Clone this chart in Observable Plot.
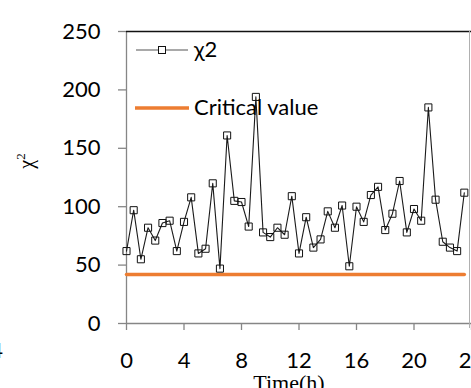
<!DOCTYPE html>
<html>
<head>
<meta charset="utf-8">
<script src="https://cdn.jsdelivr.net/npm/d3@7"></script>
<script src="https://cdn.jsdelivr.net/npm/@observablehq/plot@0.6"></script>
<style>
  html, body { margin: 0; padding: 0; background: #fff; overflow: hidden; }
  #chart { width: 471px; height: 388px; position: relative; }
</style>
</head>
<body>
<div id="chart"></div>
<script>
// Time (hours)
const times = [0, 0.5, 1, 1.5, 2, 2.5, 3, 3.5, 4, 4.5, 5, 5.5, 6, 6.5, 7, 7.5,
  8, 8.5, 9, 9.5, 10, 10.5, 11, 11.5, 12, 12.5, 13, 13.5, 14, 14.5, 15, 15.5,
  16, 16.5, 17, 17.5, 18, 18.5, 19, 19.5, 20, 20.5, 21, 21.5, 22, 22.5, 23, 23.5];
// chi-square statistic
const chi2 = [62, 97, 55, 82, 71, 86, 88, 62, 87, 108, 60, 64, 120, 47, 161, 105,
  104, 83, 194, 78, 74, 82, 76, 109, 60, 91, 65, 72, 96, 82, 101, 49,
  100, 87, 110, 117, 80, 94, 122, 78, 98, 88, 185, 106, 70, 65, 62, 112];
const criticalValue = 42;
const xTicks = [0, 4, 8, 12, 16, 20, 24];
const yTicks = [0, 50, 100, 150, 200, 250];
const seriesNames = ["χ2", "Critical value"];
const xTitle = "Time(h)";
const yTitle = "χ";
const yTitleSup = "2";

const chiData = times.map((t, i) => ({t, v: chi2[i]}));
const critData = times.map(t => ({t, v: criticalValue}));

const font = "Lato, 'Open Sans', sans-serif";
const serif = "'Liberation Serif', 'Times New Roman', serif";
const axisGray = "#868686";
const orange = "#ED7D31";

const plot = Plot.plot({
  width: 471,
  height: 388,
  marginLeft: 126,
  marginRight: 0,
  marginTop: 31,
  marginBottom: 65,
  style: {fontFamily: font, fontSize: "22px", color: "#000", background: "#fff", overflow: "visible"},
  x: {domain: [0, 24], ticks: xTicks},
  y: {domain: [0, 250], ticks: yTicks},
  marks: [
    Plot.ruleY([0], {stroke: axisGray, strokeWidth: 1.3}),
    Plot.ruleX([0], {stroke: axisGray, strokeWidth: 1.3}),
    Plot.axisY({ticks: yTicks, tickSize: 8, tickPadding: 18, stroke: axisGray, strokeWidth: 1.3, label: null, fill: "#000"}),
    Plot.axisX({ticks: xTicks, tickSize: 7, tickPadding: 22, stroke: axisGray, strokeWidth: 1.3, label: null, fill: "#000"}),
    Plot.line(critData, {x: "t", y: "v", stroke: orange, strokeWidth: 3.5}),
    Plot.line(chiData, {x: "t", y: "v", stroke: "#1a1a1a", strokeWidth: 1.1}),
    Plot.dot(chiData, {x: "t", y: "v", symbol: "square", r: 4, stroke: "#111", strokeWidth: 1, fill: "none"})
  ]
});

document.getElementById("chart").appendChild(plot);

// frame lines, titles and legend
const svg = d3.select(plot);
svg.append("line").attr("x1", 126).attr("x2", 471).attr("y1", 31.5).attr("y2", 31.5)
  .attr("stroke", "#111").attr("stroke-width", 1.6);
svg.append("line").attr("x1", 469.5).attr("x2", 469.5).attr("y1", 31).attr("y2", 328)
  .attr("stroke", "#b0b0b0").attr("stroke-width", 1);

svg.append("text").attr("x", 289).attr("y", 390).attr("text-anchor", "middle")
  .attr("font-family", serif).attr("font-size", 22)
  .attr("fill", "#000").text(xTitle);

const yt = svg.append("text").attr("transform", "translate(33,161) rotate(-90)")
  .attr("text-anchor", "middle")
  .attr("font-family", serif).attr("font-size", 20)
  .attr("fill", "#000");
yt.append("tspan").text(yTitle);
yt.append("tspan").attr("dy", -8).attr("font-size", 13).text(yTitleSup);

svg.append("text").attr("x", 3).attr("y", 358).attr("text-anchor", "end")
  .attr("font-family", font).attr("font-size", 22).attr("fill", "#000").text("4");

// legend
const lg = svg.append("g").attr("text-anchor", "start");
lg.append("line").attr("x1", 136).attr("x2", 188).attr("y1", 50).attr("y2", 50)
  .attr("stroke", "#555").attr("stroke-width", 1.1);
lg.append("rect").attr("x", 158.5).attr("y", 46.5).attr("width", 7).attr("height", 7)
  .attr("fill", "#fff").attr("stroke", "#111").attr("stroke-width", 1);
lg.append("text").attr("x", 194).attr("y", 57).attr("text-anchor", "start").attr("font-family", font).attr("font-size", 22)
  .attr("fill", "#000").text(seriesNames[0]);
lg.append("line").attr("x1", 135).attr("x2", 189).attr("y1", 108).attr("y2", 108)
  .attr("stroke", orange).attr("stroke-width", 3.5);
lg.append("text").attr("x", 194).attr("y", 115).attr("text-anchor", "start").attr("font-family", font).attr("font-size", 22)
  .attr("fill", "#000").text(seriesNames[1]);
</script>
</body>
</html>
